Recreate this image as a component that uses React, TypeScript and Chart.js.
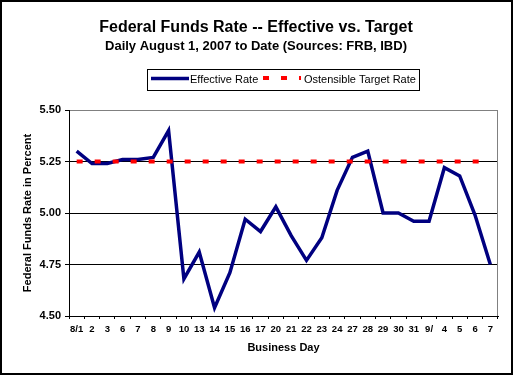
import React, { useEffect, useRef } from 'react';
import { Chart, registerables } from 'chart.js';

Chart.register(...registerables);

const titleText = 'Federal Funds Rate -- Effective vs. Target';
const subtitleText = 'Daily August 1, 2007 to Date (Sources: FRB, IBD)';
const xAxisTitle = 'Business Day';
const yAxisTitle = 'Federal Funds Rate in Percent';
const seriesNames = ['Effective Rate', 'Ostensible Target Rate'];

const categories = ['8/1', '2', '3', '6', '7', '8', '9', '10', '13', '14', '15', '16', '17', '20', '21', '22', '23', '24', '27', '28', '29', '30', '31', '9/', '4', '5', '6', '7'];

const effectiveRate = [5.30, 5.24, 5.24, 5.26, 5.26, 5.27, 5.40, 4.68, 4.81, 4.54, 4.71, 4.97, 4.91, 5.03, 4.89, 4.77, 4.88, 5.11, 5.27, 5.30, 5.00, 5.00, 4.96, 4.96, 5.22, 5.18, 4.99, 4.75];

const targetRate = [5.25, 5.25, 5.25, 5.25, 5.25, 5.25, 5.25, 5.25, 5.25, 5.25, 5.25, 5.25, 5.25, 5.25, 5.25, 5.25, 5.25, 5.25, 5.25, 5.25, 5.25, 5.25, 5.25, 5.25, 5.25, 5.25, 5.25, 5.25];

const yTicks = [4.5, 4.75, 5.0, 5.25, 5.5];

const FONT = "Arial, 'Liberation Sans', sans-serif";
const NAVY = '#000080';
const RED = '#FF0000';

const decorPlugin = {
  id: 'decor',
  beforeDraw(chart: any) {
    const ctx = chart.ctx;
    ctx.save();
    ctx.fillStyle = '#ffffff';
    ctx.fillRect(0, 0, chart.width, chart.height);
    ctx.restore();
  },
  beforeDatasetsDraw(chart: any) {
    const ctx = chart.ctx;
    const a = chart.chartArea;
    ctx.save();
    ctx.strokeStyle = '#808080';
    ctx.lineWidth = 1;
    ctx.beginPath();
    ctx.moveTo(a.right - 0.5, a.top);
    ctx.lineTo(a.right - 0.5, a.bottom);
    ctx.stroke();
    ctx.restore();
  },
  afterDraw(chart: any) {
    const ctx = chart.ctx;
    ctx.save();
    ctx.fillStyle = '#000';
    ctx.textAlign = 'center';
    ctx.textBaseline = 'alphabetic';
    ctx.font = `bold 16px ${FONT}`;
    ctx.fillText(titleText, 256, 32);
    ctx.font = `bold 13px ${FONT}`;
    ctx.fillText(subtitleText, 256, 50);

    ctx.strokeStyle = '#000';
    ctx.lineWidth = 1;
    ctx.strokeRect(147.5, 69.5, 272, 21);

    ctx.strokeStyle = NAVY;
    ctx.lineWidth = 3.5;
    ctx.beginPath();
    ctx.moveTo(151, 78.5);
    ctx.lineTo(189, 78.5);
    ctx.stroke();

    ctx.strokeStyle = RED;
    ctx.lineWidth = 4;
    ctx.setLineDash([6, 12]);
    ctx.beginPath();
    ctx.moveTo(263, 78);
    ctx.lineTo(301, 78);
    ctx.stroke();
    ctx.setLineDash([]);

    ctx.fillStyle = '#000';
    ctx.textAlign = 'left';
    ctx.font = `11px ${FONT}`;
    ctx.fillText(seriesNames[0], 190, 83);
    ctx.fillText(seriesNames[1], 304, 83);

    ctx.strokeStyle = '#000';
    ctx.lineWidth = 2;
    ctx.strokeRect(1, 1, chart.width - 2, chart.height - 2);
    ctx.restore();
  },
};

export default function App() {
  const canvasRef = useRef<HTMLCanvasElement | null>(null);

  useEffect(() => {
    document.body.style.margin = '0';
    const canvas = canvasRef.current;
    if (!canvas) return;
    const chart = new Chart(canvas, {
      type: 'line',
      data: {
        labels: categories,
        datasets: [
          {
            label: seriesNames[0],
            data: effectiveRate,
            borderColor: NAVY,
            backgroundColor: NAVY,
            borderWidth: 3.5,
            pointRadius: 0,
            tension: 0,
            fill: false,
            order: 1,
          },
          {
            label: seriesNames[1],
            data: targetRate,
            borderColor: RED,
            backgroundColor: RED,
            borderWidth: 4,
            borderDash: [6, 12],
            borderCapStyle: 'butt',
            pointRadius: 0,
            tension: 0,
            fill: false,
            order: 0,
          },
        ],
      },
      options: {
        responsive: false,
        animation: false,
        events: [],
        layout: { padding: { top: 110, right: 15, left: 0, bottom: 0 } },
        plugins: {
          legend: { display: false },
          title: { display: false },
          tooltip: { enabled: false },
        },
        scales: {
          x: {
            type: 'category',
            offset: true,
            grid: {
              offset: true,
              drawOnChartArea: false,
              drawTicks: true,
              tickLength: 3,
              color: '#000',
              tickColor: '#000',
            },
            border: { display: true, color: '#000', width: 1 },
            ticks: {
              autoSkip: false,
              maxRotation: 0,
              minRotation: 0,
              padding: 5,
              color: '#000',
              font: { family: FONT, size: 9.5, weight: 'bold' },
            },
            title: {
              display: true,
              text: xAxisTitle,
              color: '#000',
              font: { family: FONT, size: 11, weight: 'bold', lineHeight: 1 },
              padding: { top: 0, bottom: 21.5 },
            },
            afterFit: (s: any) => {
              s.height = 59;
            },
          },
          y: {
            type: 'linear',
            min: 4.5,
            max: 5.5,
            afterBuildTicks: (s: any) => {
              s.ticks = yTicks.map((v) => ({ value: v }));
            },
            grid: {
              color: (c: any) => (c.tick && c.tick.value === 5.5 ? '#808080' : '#000'),
              tickColor: '#000',
              tickLength: 4,
              drawTicks: true,
              lineWidth: 1,
            },
            border: { display: true, color: '#000', width: 1 },
            ticks: {
              padding: 4,
              color: '#000',
              font: { family: FONT, size: 11, weight: 'bold' },
              callback: (v: any) => Number(v).toFixed(2),
            },
            title: {
              display: true,
              text: yAxisTitle,
              color: '#000',
              font: { family: FONT, size: 11, weight: 'bold', lineHeight: 1 },
              padding: { top: 22, bottom: 0 },
            },
            afterFit: (s: any) => {
              s.width = 69;
            },
          },
        },
      },
      plugins: [decorPlugin],
    } as any);
    return () => chart.destroy();
  }, []);

  return (
    <div style={{ position: 'absolute', left: 0, top: 0, width: 513, height: 375 }}>
      <canvas ref={canvasRef} width={513} height={375} style={{ display: 'block', width: 513, height: 375 }} />
    </div>
  );
}
